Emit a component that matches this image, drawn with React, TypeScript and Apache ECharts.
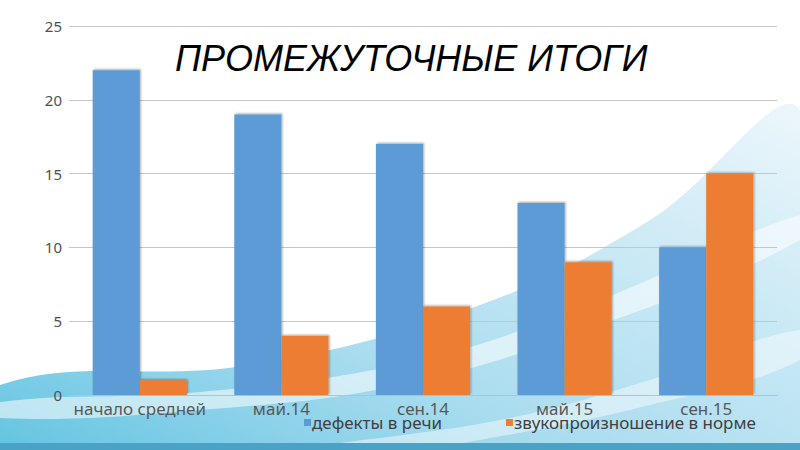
import React, { useEffect, useRef } from "react";
import * as echarts from "echarts";

const categories = ["начало средней школы", "май.14", "сен.14", "май.15", "сен.15"];
const defects = [22, 19, 17, 13, 10];
const normal = [1, 4, 6, 9, 15];
const seriesNames = ["дефекты в речи", "звукопроизношение в норме"];
const yTicks = { min: 0, max: 25, interval: 5 };
const titleText = "ПРОМЕЖУТОЧНЫЕ ИТОГИ";

export default function App() {
  const ref = useRef<HTMLDivElement>(null);
  useEffect(() => {
    if (!ref.current) return;
    const chart = echarts.init(ref.current, null, { renderer: "svg" });
    const barShadow = {
      shadowColor: "rgba(0,0,0,0.35)",
      shadowBlur: 2,
      shadowOffsetX: 1,
      shadowOffsetY: -1,
    };
    chart.setOption({
      animation: false,
      backgroundColor: "#ffffff",
      graphic: [
        {
          type: "polygon",
          z: -10,
          silent: true,
          shape: {
            points: [
              [0, 450], [0, 385], [250, 365], [480, 305], [650, 220], [800, 110], [800, 450],
            ],
            smooth: 0.4,
          },
          style: {
            fill: new echarts.graphic.LinearGradient(0, 1, 1, 0, [
              { offset: 0, color: "#55bfdf" },
              { offset: 0.4, color: "#a9dcef" },
              { offset: 1, color: "#f0f8fc" },
            ]),
          },
        },
        {
          type: "polygon",
          z: -9,
          silent: true,
          shape: {
            points: [
              [0, 402], [200, 392], [420, 360], [600, 300], [800, 215], [800, 240], [600, 325], [400, 385], [200, 410], [0, 418],
            ],
            smooth: 0.4,
          },
          style: { fill: "rgba(255,255,255,0.55)" },
        },
        {
          type: "polygon",
          z: -9,
          silent: true,
          shape: {
            points: [
              [300, 450], [500, 420], [650, 380], [800, 330], [800, 360], [650, 405], [480, 440], [400, 450],
            ],
            smooth: 0.4,
          },
          style: { fill: "rgba(255,255,255,0.45)" },
        },
        {
          type: "rect",
          z: -8,
          silent: true,
          shape: { x: 0, y: 443, width: 800, height: 7 },
          style: { fill: "#4aa3c6" },
        },
      ],
      title: {
        text: titleText,
        left: 170,
        top: 35,
        textStyle: {
          fontFamily: "Liberation Sans",
          fontStyle: "italic",
          fontWeight: "normal",
          fontSize: 36,
          color: "#000000",
        },
      },
      legend: {
        left: 299,
        top: 409,
        itemWidth: 7,
        itemHeight: 7,
        itemGap: 64,
        icon: "rect",
        data: seriesNames,
        textStyle: {
          fontFamily: "Noto Sans",
          fontSize: 17,
          color: "#404040",
          padding: [0, 0, 0, -4],
        },
      },
      grid: { left: 69, right: 23, top: 26, bottom: 55 },
      xAxis: {
        type: "category",
        data: categories,
        axisLine: { lineStyle: { color: "#bfbfbf", width: 1 } },
        axisTick: { show: false },
        axisLabel: {
          interval: 0,
          hideOverlap: false,
          margin: 5,
          fontFamily: "Noto Sans",
          fontSize: 17,
          color: "#595959",
          formatter: (v: string) => (v.startsWith("начало") ? "начало средней" : v),
        },
      },
      yAxis: {
        type: "value",
        min: yTicks.min,
        max: yTicks.max,
        interval: yTicks.interval,
        axisLine: { show: false },
        axisTick: { show: false },
        axisLabel: {
          margin: 7,
          fontFamily: "Noto Sans",
          fontSize: 15,
          color: "#505050",
        },
        splitLine: { lineStyle: { color: "#c6c6c6", width: 1 } },
      },
      series: [
        {
          name: seriesNames[0],
          type: "bar",
          data: defects,
          barGap: "0%",
          barCategoryGap: "33.5%",
          itemStyle: { color: "#5b9bd5", ...barShadow },
        },
        {
          name: seriesNames[1],
          type: "bar",
          data: normal,
          barGap: "0%",
          barCategoryGap: "33.5%",
          itemStyle: { color: "#ed7d31", ...barShadow },
        },
      ],
    });
    return () => chart.dispose();
  }, []);
  return (
    <div
      ref={ref}
      style={{ position: "fixed", left: 0, top: 0, width: 800, height: 450 }}
    />
  );
}
